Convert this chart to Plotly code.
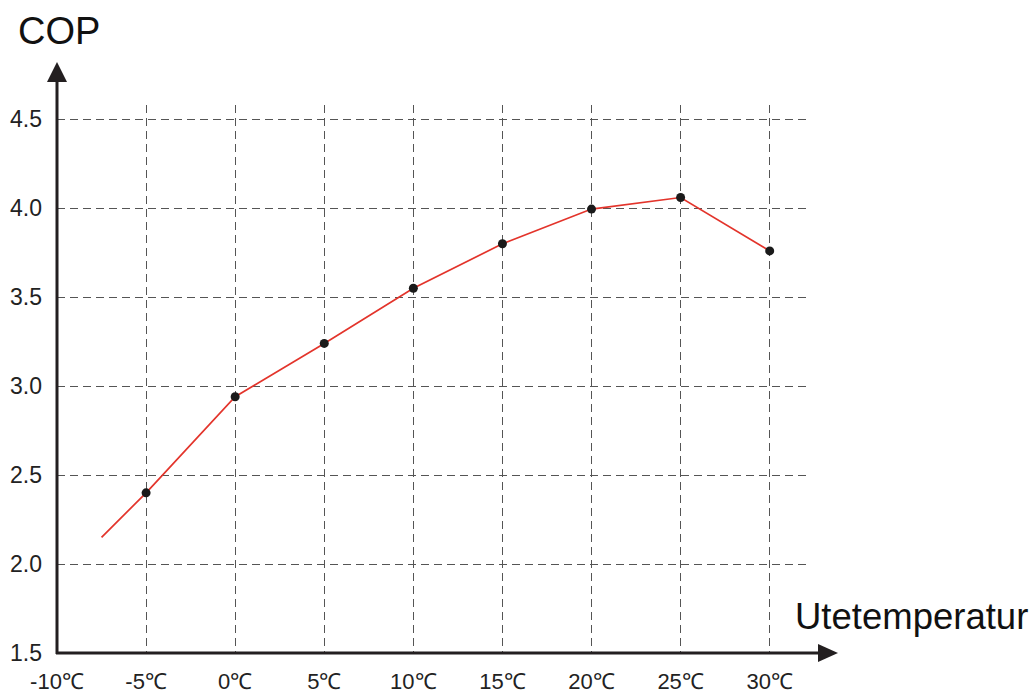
import plotly.graph_objects as go

# Data
temps = [-7.5, -5, 0, 5, 10, 15, 20, 25, 30]
cop = [2.15, 2.40, 2.94, 3.24, 3.55, 3.80, 3.995, 4.06, 3.76]
marker_temps = [-5, 0, 5, 10, 15, 20, 25, 30]
marker_cop = [2.40, 2.94, 3.24, 3.55, 3.80, 3.995, 4.06, 3.76]
x_ticks = [-10, -5, 0, 5, 10, 15, 20, 25, 30]
x_labels = ["-10℃", "-5℃", "0℃", "5℃", "10℃", "15℃", "20℃", "25℃", "30℃"]
y_ticks = [1.5, 2.0, 2.5, 3.0, 3.5, 4.0, 4.5]
y_labels = ["1.5", "2.0", "2.5", "3.0", "3.5", "4.0", "4.5"]

W, H = 1034, 695
L, R, T, B = 57, 808, 105, 653

def px(xp):
    return (xp - L) / (R - L)

def py(yp):
    return (B - yp) / (B - T)

FONT = "Liberation Sans, Arial, sans-serif"
AX = "#231f20"

fig = go.Figure()
fig.add_trace(go.Scatter(x=temps, y=cop, mode="lines",
                         line=dict(color="#e3342b", width=1.7),
                         hoverinfo="skip", showlegend=False))
fig.add_trace(go.Scatter(x=marker_temps, y=marker_cop, mode="markers",
                         marker=dict(color="#1a1a1a", size=9),
                         showlegend=False))

# axis lines
fig.add_shape(type="line", xref="paper", yref="paper", x0=px(57), x1=px(57), y0=py(654), y1=py(80),
              line=dict(color=AX, width=3))
fig.add_shape(type="line", xref="paper", yref="paper", x0=px(56), x1=px(822), y0=py(653), y1=py(653),
              line=dict(color=AX, width=3))
# arrowheads
fig.add_shape(type="path", xref="paper", yref="paper",
              path=f"M {px(47)} {py(82)} L {px(57)} {py(62)} L {px(67)} {py(82)} Z",
              fillcolor=AX, line=dict(color=AX, width=0))
fig.add_shape(type="path", xref="paper", yref="paper",
              path=f"M {px(818)} {py(644)} L {px(838)} {py(653)} L {px(818)} {py(662)} Z",
              fillcolor=AX, line=dict(color=AX, width=0))

fig.add_annotation(text="COP", xref="paper", yref="paper", x=px(16), y=py(31),
                   xanchor="left", yanchor="middle", showarrow=False,
                   font=dict(family=FONT, size=38, color="#111"))
fig.add_annotation(text="Utetemperatur", xref="paper", yref="paper", x=px(793), y=py(616),
                   xanchor="left", yanchor="middle", showarrow=False,
                   font=dict(family=FONT, size=36.5, color="#111"))

grid = dict(showgrid=True, gridcolor="#555555", gridwidth=1, griddash="8px,5px",
            zeroline=False, showline=False, ticks="")
fig.update_xaxes(range=[-10, 32.15], tickvals=x_ticks, ticktext=x_labels,
                 tickfont=dict(family=FONT, size=22, color="#222"),
                 ticklabelstandoff=13, **grid)
fig.update_yaxes(range=[1.5, 4.58], tickvals=y_ticks, ticktext=y_labels,
                 tickfont=dict(family=FONT, size=23, color="#222"),
                 ticklabelstandoff=14, **grid)

fig.update_layout(width=W, height=H, margin=dict(l=L, r=W - R, t=T, b=H - B, autoexpand=False),
                  plot_bgcolor="white", paper_bgcolor="white", showlegend=False)

fig.write_html("out.html", config={"displayModeBar": False},
               post_script="document.body.style.margin='0';document.body.style.padding='0';")
